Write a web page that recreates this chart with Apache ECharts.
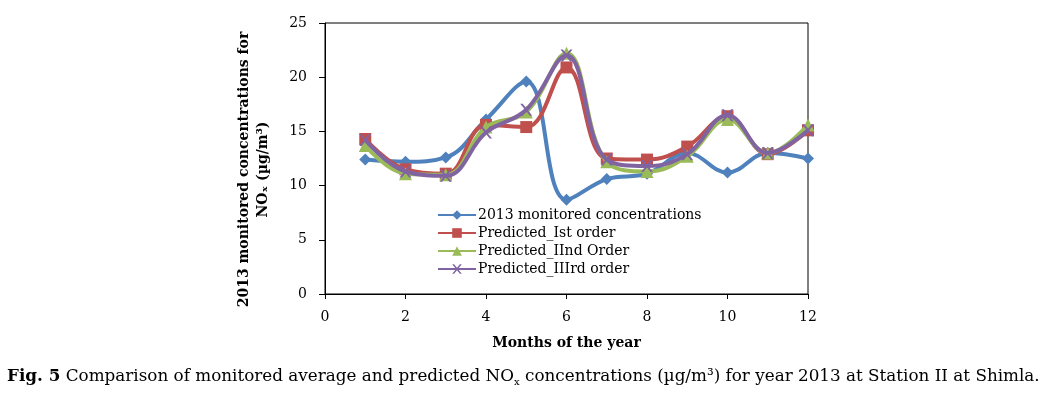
<!DOCTYPE html>
<html>
<head>
<meta charset="utf-8">
<script src="https://cdn.jsdelivr.net/npm/echarts@6/dist/echarts.min.js"></script>
<style>
  html, body { margin: 0; padding: 0; background: #fff; }
  #chart { width: 1055px; height: 398px; }
</style>
</head>
<body>
<div id="chart"></div>
<script>
  // months on the x axis
  const months = [1, 2, 3, 4, 5, 6, 7, 8, 9, 10, 11, 12];
  const seriesNames = ['2013 monitored concentrations', 'Predicted_Ist order', 'Predicted_IInd Order', 'Predicted_IIIrd order'];
  const monitored = [12.4, 12.2, 12.6, 16.1, 19.6, 8.7, 10.6, 11.1, 13.0, 11.2, 13.0, 12.5];
  const predicted1 = [14.3, 11.5, 11.1, 15.6, 15.4, 20.9, 12.5, 12.4, 13.6, 16.4, 12.9, 15.1];
  const predicted2 = [13.7, 11.1, 11.0, 15.4, 16.8, 22.2, 12.2, 11.3, 12.7, 16.1, 13.0, 15.6];
  const predicted3 = [14.2, 11.3, 10.9, 14.9, 17.0, 22.0, 12.4, 11.8, 12.9, 16.5, 13.0, 15.1];

  const colors = ['#4F81BD', '#C0504D', '#9BBB59', '#8064A2'];
  const symbols = ['diamond', 'rect', 'triangle', 'path://M0,0 L2,0 L5,3 L8,0 L10,0 L6,4 L10,8 L8,8 L5,5 L2,8 L0,8 L4,4 Z'];
  const symbolSizes = [12, 12, 13, 12];
  const font = 'DejaVu Serif';

  const chart = echarts.init(document.getElementById('chart'));

  function pairs(values) {
    return months.map((m, i) => [m, values[i]]);
  }

  const allData = [monitored, predicted1, predicted2, predicted3];

  chart.setOption({
    animation: false,
    color: colors,
    title: {
      left: 2,
      bottom: 8,
      text: '{b|Fig. 5} Comparison of monitored average and predicted NO{s|x} concentrations (µg/m³) for year 2013 at Station II at Shimla.',
      textStyle: {
        fontFamily: font,
        fontSize: 16.8,
        fontWeight: 'normal',
        color: '#000',
        rich: {
          b: { fontFamily: font, fontSize: 16.8, fontWeight: 'bold', color: '#000' },
          s: { fontFamily: font, fontSize: 10, color: '#000', padding: [12, 0, 0, 0] }
        }
      }
    },
    legend: {
      orient: 'vertical',
      left: 432,
      top: 203,
      itemGap: 4,
      itemWidth: 38,
      itemHeight: 12,
      data: seriesNames,
      textStyle: { fontFamily: font, fontSize: 14, color: '#000', padding: [0, 0, 0, -3] }
    },
    grid: {
      left: 325, right: 247, top: 23, bottom: 104,
      show: true,
      borderColor: '#000',
      borderWidth: 1,
      backgroundColor: 'transparent'
    },
    xAxis: {
      type: 'value',
      min: 0, max: 12, interval: 2,
      name: 'Months of the year',
      nameLocation: 'middle',
      nameGap: 42,
      nameTextStyle: { fontFamily: font, fontSize: 14, fontWeight: 'bold', color: '#000' },
      axisLine: { lineStyle: { color: '#000', width: 1 } },
      axisTick: { show: true, length: 5, lineStyle: { color: '#000' } },
      axisLabel: { fontFamily: font, fontSize: 14, color: '#000', margin: 16 },
      splitLine: { show: false }
    },
    yAxis: {
      type: 'value',
      min: 0, max: 25, interval: 5,
      name: '2013 monitored concentrations for\nNOₓ (µg/m³)',
      nameLocation: 'middle',
      nameGap: 52,
      nameTextStyle: { fontFamily: font, fontSize: 14, fontWeight: 'bold', color: '#000', lineHeight: 19, padding: [0, 22, 0, 0] },
      axisLine: { show: true, lineStyle: { color: '#000', width: 1 } },
      axisTick: { show: true, length: 6, lineStyle: { color: '#000' } },
      axisLabel: { fontFamily: font, fontSize: 14, color: '#000', margin: 18 },
      splitLine: { show: false }
    },
    series: seriesNames.map((name, i) => ({
      name: name,
      type: 'line',
      smooth: 0.4,
      data: pairs(allData[i]),
      symbol: symbols[i],
      symbolSize: symbolSizes[i],
      lineStyle: { width: 4, color: colors[i] },
      itemStyle: { color: colors[i], borderWidth: 0 },
      z: 2 + i
    }))
  });
</script>
</body>
</html>
